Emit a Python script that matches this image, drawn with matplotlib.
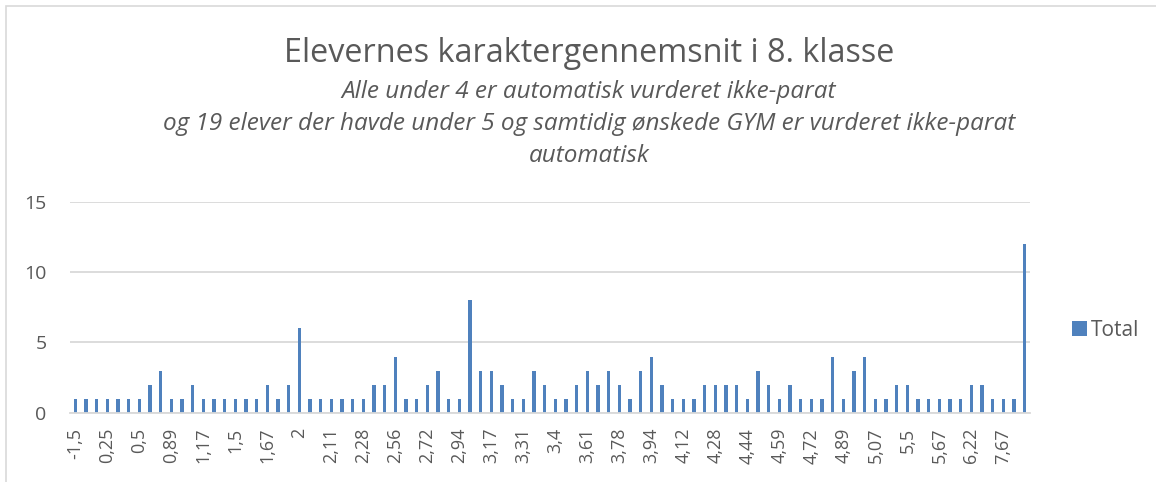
import matplotlib
matplotlib.use("Agg")
import matplotlib.pyplot as plt
from matplotlib.patches import Rectangle

# ---- data ----
values = [1, 1, 1, 1, 1, 1, 1, 2, 3, 1, 1, 2, 1, 1, 1, 1, 1, 1, 2, 1,
          2, 6, 1, 1, 1, 1, 1, 1, 2, 2, 4, 1, 1, 2, 3, 1, 1, 8, 3, 3,
          2, 1, 1, 3, 2, 1, 1, 2, 3, 2, 3, 2, 1, 3, 4, 2, 1, 1, 1, 2,
          2, 2, 2, 1, 3, 2, 1, 2, 1, 1, 1, 4, 1, 3, 4, 1, 1, 2, 2, 1,
          1, 1, 1, 1, 2, 2, 1, 1, 1, 12]
tick_labels = ["-1,5", "0,25", "0,5", "0,89", "1,17", "1,5", "1,67", "2", "2,11", "2,28",
               "2,56", "2,72", "2,94", "3,17", "3,31", "3,4", "3,61", "3,78", "3,94", "4,12",
               "4,28", "4,44", "4,59", "4,72", "4,89", "5,07", "5,5", "5,67", "6,22", "7,67"]
tick_step = 3
series_name = "Total"
y_ticks = [0, 5, 10, 15]

title = "Elevernes karaktergennemsnit i 8. klasse"
subtitle_lines = ["Alle under 4 er automatisk vurderet ikke-parat",
                  "og 19 elever der havde under 5 og samtidig ønskede GYM er vurderet ikke-parat",
                  "automatisk"]

W, H = 1156, 482
FONT = "Open Sans"
TXT = "#595959"
GRID = "#D9D9D9"
BAR = "#4F81BD"

fig = plt.figure(figsize=(W / 100, H / 100), dpi=100)
fig.patch.set_facecolor("white")
plt.rcParams["font.family"] = [FONT, "DejaVu Sans"]

# chart-area border (extends past right and bottom edge as in reference)
fig.patches.append(Rectangle((5.5 / W, -0.1), 1.2, (H - 6) / H + 0.1,
                             transform=fig.transFigure, fill=False,
                             edgecolor=GRID, linewidth=1.2))

left, right = 70 / W, 1030 / W
bottom, top = 1 - 412.7 / H, 1 - 202 / H
ax = fig.add_axes([left, bottom, right - left, top - bottom])

x = list(range(len(values)))
bars = ax.bar(x, values, width=0.31, color=BAR, zorder=3, label=series_name)

ax.set_xlim(-0.5, len(values) - 0.5)
ax.set_ylim(0, 15)
ax.set_yticks(y_ticks)
ax.yaxis.grid(True, color=GRID, linewidth=1.3, zorder=0)
ax.set_axisbelow(True)
for s in ["top", "right", "left"]:
    ax.spines[s].set_visible(False)
ax.spines["bottom"].set_color(GRID)
ax.spines["bottom"].set_linewidth(1.3)
ax.spines["bottom"].set_zorder(4)

ax.set_xticks(x[::tick_step])
ax.set_xticklabels(tick_labels, rotation=90, fontsize=13, color=TXT)
ax.tick_params(axis="x", length=0, pad=11)
ax.tick_params(axis="y", length=0, pad=17, labelsize=14, labelcolor=TXT)

# titles
cx = 589 / W
fig.text(cx, 1 - 62.3 / H, title, ha="center", va="baseline",
         fontsize=23.3, color=TXT)
baselines = [98, 130, 162]
for line, b in zip(subtitle_lines, baselines):
    fig.text(cx, 1 - b / H, line, ha="center", va="baseline",
             fontsize=17.5, color=TXT, style="italic")

fig.legend(handles=[bars], labels=[series_name], loc="center left",
           bbox_to_anchor=(1072 / W, 1 - 330 / H), frameon=False,
           fontsize=15, labelcolor=TXT, handlelength=0.7, handleheight=0.7,
           handletextpad=0.2, borderpad=0, borderaxespad=0)

fig.savefig("out.png", dpi=100, facecolor="white")
